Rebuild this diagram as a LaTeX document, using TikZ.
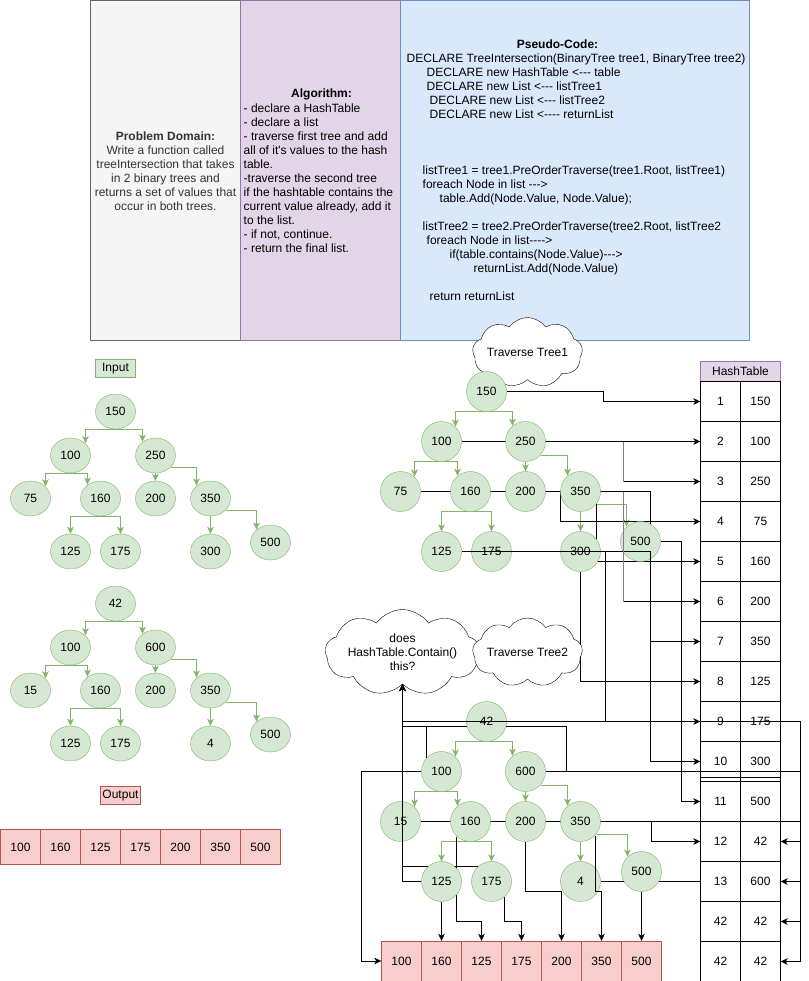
\documentclass[tikz,border=0pt]{standalone}
\usepackage{fontspec}
\setmainfont{Liberation Sans}[Ligatures=TeXOff]
\usetikzlibrary{shapes.geometric,shapes.symbols,arrows.meta,calc}
\definecolor{gfill}{HTML}{D5E8D4}
\definecolor{gstroke}{HTML}{82B366}
\definecolor{pfill}{HTML}{E1D5E7}
\definecolor{pstroke}{HTML}{9673A6}
\definecolor{bfill}{HTML}{DAE8FC}
\definecolor{bstroke}{HTML}{6C8EBF}
\definecolor{kfill}{HTML}{F5F5F5}
\definecolor{kstroke}{HTML}{666666}
\definecolor{rfill}{HTML}{F8CECC}
\definecolor{rstroke}{HTML}{B85450}
\definecolor{txtgray}{HTML}{333333}
\definecolor{lngray}{HTML}{808080}
\pgfdeclarelayer{bg}
\pgfdeclarelayer{edges}
\pgfdeclarelayer{front}
\pgfsetlayers{bg,edges,main,front}
\newcommand\myfs{\fontsize{12bp}{14bp}\selectfont}
\begin{document}
\begin{tikzpicture}[x=1bp,y=-1bp,line width=1bp,font=\myfs,
  every node/.style={inner sep=0pt},
  lt/.style={ellipse,draw=gstroke,fill=gfill,minimum width=40bp,minimum height=35bp},
  rt/.style={circle,draw=gstroke,fill=gfill,minimum size=40bp},
  cellk/.style={draw=black,fill=white,minimum width=40bp,minimum height=40bp},
  ocellr/.style={draw=rstroke,fill=rfill,minimum width=40bp,minimum height=40bp},
  ocelll/.style={draw=rstroke,fill=rfill,minimum width=40bp,minimum height=35bp},
  cloudn/.style={cloud,draw=black,fill=white,cloud puffs=9,cloud puff arc=110,cloud ignores aspect,align=center},
  arr/.style={-{Stealth[length=7bp,width=6.5bp,inset=2bp]}},
  garr/.style={draw=gstroke,-{Stealth[length=7bp,width=6.5bp,inset=2bp]}},
  glin/.style={draw=lngray,line width=1.6bp}]
\useasboundingbox (-0.5,-0.5) rectangle (808.5,980.5);
\begin{pgfonlayer}{bg}
\fill[white] (-0.5,-0.5) rectangle (808.5,980.5);
\node[draw=kstroke,fill=kfill,minimum width=150bp,minimum height=340bp] (pdbox) at (165,170) {};
\node[draw=pstroke,fill=pfill,minimum width=160bp,minimum height=340bp] (algbox) at (320,170) {};
\node[draw=bstroke,fill=bfill,minimum width=349bp,minimum height=340bp] (pcbox) at (574.5,170) {};
% hash table
\node[draw=pstroke,fill=pfill,minimum width=80bp,minimum height=20bp] (ht) at (740,371) {HashTable};
\foreach \k/\v [count=\i] in {1/150,2/100,3/250,4/75,5/160,6/200,7/350,8/125,9/175,10/300,11/500,12/42,13/600,42/42,42/42}{
  \node[cellk] (h\i) at (720,{401+40*(\i-1)}) {\k};
  \node[cellk] (v\i) at (760,{401+40*(\i-1)}) {\v};
}
\draw (700,777) -- (780,777);
% output arrays
\foreach \v [count=\i] in {100,160,125,175,200,350,500}{
  \node[ocellr] (o\i) at ({401+40*(\i-1)},960.5) {\v};
  \node[ocelll] (p\i) at ({20+40*(\i-1)},846.5) {\v};
}
\end{pgfonlayer}

% texts of top boxes
\node[align=center,text=txtgray] (pdtext) at (165,171) {\textbf{Problem Domain:}\\Write a function called\\treeIntersection that takes\\in 2 binary trees and\\returns a set of values that\\occur in both trees.};
\node[font=\myfs\bfseries] (algtitle) at (321,94) {Algorithm:};
\node[align=left,anchor=west] (algbody) at (243,178) {- declare a HashTable\\- declare a list\\- traverse first tree and add\\all of it's values to the hash\\table.\\-traverse the second tree\\if the hashtable contains the\\current value already, add it\\to the list.\\- if not, continue.\\- return the final list.};
\node[font=\myfs\bfseries] (pctitle) at (557,44) {Pseudo-Code:};
\node[align=left,anchor=west] (pcbody) at (406,177) {DECLARE TreeIntersection(BinaryTree tree1, BinaryTree tree2)\\
\hspace*{20bp}DECLARE new HashTable <--- table\\
\hspace*{20bp}DECLARE new List <--- listTree1\\
\hspace*{23bp}DECLARE new List <--- listTree2\\
\hspace*{23bp}DECLARE new List <---- returnList\\
\mbox{}\\ \mbox{}\\ \mbox{}\\
\hspace*{16bp}listTree1 = tree1.PreOrderTraverse(tree1.Root, listTree1)\\
\hspace*{16bp}foreach Node in list --->\\
\hspace*{33bp}table.Add(Node.Value, Node.Value);\\
\mbox{}\\
\hspace*{16bp}listTree2 = tree2.PreOrderTraverse(tree2.Root, listTree2\\
\hspace*{20bp}foreach Node in list---->\\
\hspace*{43bp}if(table.contains(Node.Value)--->\\
\hspace*{67bp}returnList.Add(Node.Value)\\
\mbox{}\\
\hspace*{23bp}return returnList};

% labels
\node[draw=gstroke,fill=gfill,minimum width=40bp,minimum height=18bp] (inlbl) at (115,368) {Input};
\node[draw=rstroke,fill=rfill,minimum width=40bp,minimum height=18bp] (outlbl) at (120,795) {Output};

% clouds
\node[cloudn,minimum width=110bp,minimum height=70bp] (ct1) at (527,352) {Traverse Tree1};
\node[cloudn,minimum width=145bp,minimum height=86bp] (hc) at (402,652) {does\\HashTable.Contain()\\this?};
\node[cloudn,minimum width=107bp,minimum height=69bp] (ct2) at (527,652) {Traverse Tree2};

% left tree 1
\node[lt] (l150) at (115,411) {150};
\node[lt] (l100) at (70,455) {100};
\node[lt] (l250) at (155,455) {250};
\node[lt] (l75) at (30,498) {75};
\node[lt] (l160) at (100,498) {160};
\node[lt] (l200) at (155,498) {200};
\node[lt] (l350) at (210,498) {350};
\node[lt] (l125) at (70,551) {125};
\node[lt] (l175) at (120,551) {175};
\node[lt] (l300) at (210,551) {300};
\node[lt] (l500) at (270,542) {500};
% left tree 2
\node[lt] (m42) at (115,603) {42};
\node[lt] (m100) at (70,647) {100};
\node[lt] (m600) at (155,647) {600};
\node[lt] (m15) at (30,690) {15};
\node[lt] (m160) at (100,690) {160};
\node[lt] (m200) at (155,690) {200};
\node[lt] (m350) at (210,690) {350};
\node[lt] (m125) at (70,743) {125};
\node[lt] (m175) at (120,743) {175};
\node[lt] (m4) at (210,743) {4};
\node[lt] (m500) at (270,734) {500};
% right tree 1
\node[rt] (a150) at (486,391) {150};
\node[rt] (a100) at (441,441) {100};
\node[rt] (a250) at (525,441) {250};
\node[rt] (a75) at (400,491) {75};
\node[rt] (a160) at (470,491) {160};
\node[rt] (a200) at (525,491) {200};
\node[rt] (a350) at (580,491) {350};
\node[rt] (a125) at (441,551) {125};
\node[rt] (a175) at (491,551) {175};
\node[rt] (a300) at (580,551) {300};
\node[rt] (a500) at (640,541) {500};
% right tree 2
\node[rt] (b42) at (486,721) {42};
\node[rt] (b100) at (441,771) {100};
\node[rt] (b600) at (525,771) {600};
\node[rt] (b15) at (400,821) {15};
\node[rt] (b160) at (470,821) {160};
\node[rt] (b200) at (525,821) {200};
\node[rt] (b350) at (580,821) {350};
\node[rt] (b125) at (441,881) {125};
\node[rt] (b175) at (491,881) {175};
\node[rt] (b4) at (580,881) {4};
\node[rt] (b500) at (641,871) {500};

\begin{pgfonlayer}{edges}
% left tree edges
\foreach \p/\q/\r in {l150/l100/l250,l100/l75/l160,m42/m100/m600,m100/m15/m160}{
  \draw[garr] (\p.south) -| ($(\q)+(15,-12.3)$);
  \draw[garr] (\p.south) -| ($(\r)+(-13,-13.9)$);
}
\foreach \p/\q/\r in {l160/l125/l175,m160/m125/m175}{
  \draw[garr] (\p.south) -| (\q.north);
  \draw[garr] (\p.south) -| (\r.north);
}
\draw[garr] (l250.south) -- (l200.north);
\draw[garr] ($(l250)+(15,12)$) -| ($(l350)+(-14,-13.1)$);
\draw[garr] (l350.south) -- (l300.north);
\draw[garr] ($(l350)+(15,12)$) -| ($(l500)+(-14,-13.1)$);
\draw[garr] (m600.south) -- (m200.north);
\draw[garr] ($(m600)+(15,12)$) -| ($(m350)+(-14,-13.1)$);
\draw[garr] (m350.south) -- (m4.north);
\draw[garr] ($(m350)+(15,12)$) -| ($(m500)+(-14,-13.1)$);
% right tree edges
\foreach \p/\q/\r in {a150/a100/a250,a100/a75/a160,b42/b100/b600,b100/b15/b160}{
  \draw[garr] ($(\p)+(0,20)$) -| ($(\q)+(14,-15)$);
  \draw[garr] ($(\p)+(0,20)$) -| ($(\r)+(-13,-15.8)$);
}
\foreach \p/\q/\r in {a160/a125/a175,b160/b125/b175}{
  \draw[garr] ($(\p)+(0,20)$) -| (\q.north);
  \draw[garr] ($(\p)+(0,20)$) -| (\r.north);
}
\draw[garr] (a250.south) -- (a200.north);
\draw[garr] ($(a250)+(15,14)$) -| ($(a350)+(-13,-15.8)$);
\draw[garr] (a350.south) -- (a300.north);
\draw[garr] ($(a350)+(16,13)$) -| ($(a500)+(-14,-15)$);
\draw[garr] (b600.south) -- (b200.north);
\draw[garr] ($(b600)+(15,14)$) -| ($(b350)+(-13,-15.8)$);
\draw[garr] (b350.south) -- (b4.north);
\draw[garr] ($(b350)+(16,13)$) -| ($(b500)+(-14,-15)$);
% tree 1 -> hash table
\draw[arr] (a150.east) -- (603,391) |- (h1.west);
\draw[arr] (a100.east) -- (h2.west);
\draw[arr] (a250.east) -- (623,441) |- (h3.west);
\draw[arr] (a75.east) -- (560,491) |- (h4.west);
\draw[arr] (a160.east) -- (596,491) |- (h5.west);
\draw[arr] (a200.east) -- (623,491) |- (h6.west);
\draw[arr] (a350.east) -- (650,491) |- (h7.west);
\draw[arr] (a300.south) |- (h8.west);
\draw[arr] (a175.east) -- (605,551) |- (h9.west);
\draw[arr] (a500.east) -- (681,541) |- (h11.west);
% tree 2
\draw[arr] (b42.west) -| (hc.south);
\draw[arr] ($(b100)+(-15,-14)$) -- (426,726) -| (hc.south);
\draw[arr] (b600.east) -- (566,771) -- (566,726) -| (hc.south);
\draw[arr] ($(b175)+(-13,-15)$) -| (hc.south);
\draw[arr] (b100.west) -- (361,771) |- (o1.west);
\draw[arr] (b125.south) -- (o2.north);
\draw[arr] ($(b160)+(-14,15)$) -- (456,921) -| (o3.north);
\draw[arr] ($(b175)+(13,15.5)$) -- (504,921) -| (o4.north);
\draw[arr] (b200.south) -- (525,891) -| (o5.north);
\draw[arr] (b500.south) -- (o7.north);
\draw (b4.east) -- (h13.west);
\draw[arr] (b15.east) -- (651,821) |- (h12.west);
\draw[arr] (b350.east) -- (800,821) |- (v14.east);
\draw[arr] (b600.east) -- (800,771) |- (v13.east);
\draw[arr] (b42.east) -- (800,721) |- (v15.east);
\end{pgfonlayer}

\begin{pgfonlayer}{front}
\draw[arr] (a125.east) -- (650,551) |- (h10.west);
\draw[glin] (623,441) -- (623,481);
\draw[glin] (623,491) -- (623,601);
\draw[arr] (b125.west) -| (hc.south);
\draw[arr] ($(b350)+(15,14)$) -- (595,891) -| (o6.north);
\draw[arr] (b42.west) -- (800,721) |- (v12.east);
\end{pgfonlayer}
\end{tikzpicture}
\end{document}
